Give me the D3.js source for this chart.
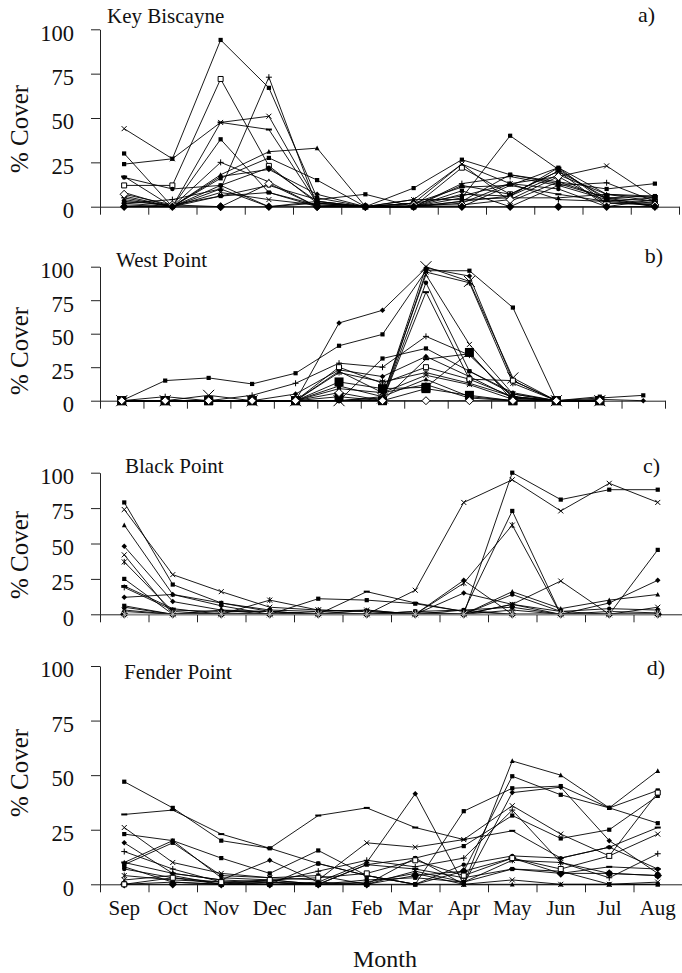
<!DOCTYPE html>
<html><head><meta charset="utf-8">
<script src="https://cdn.jsdelivr.net/npm/d3@7"></script>
<style>
body{margin:0;background:#fff}
svg{display:block}
text{font-family:"Liberation Serif","Times New Roman",serif;fill:#111}
</style></head><body><svg id="c" width="682" height="973"></svg>
<script>
// ---------------- data ----------------
const months = ["Sep","Oct","Nov","Dec","Jan","Feb","Mar","Apr","May","Jun","Jul","Aug"];
const westPointPeriods = ["P1","P2","P3","P4","P5","P6","P7","P8","P9","P10","P11","P12","P13"];
const yTicks = [0, 25, 50, 75, 100];
const panelTitles = ["Key Biscayne", "West Point", "Black Point", "Fender Point"];
const panelTags = ["a)", "b)", "c)", "d)"];
const xTitle = "Month";
const yTitle = "% Cover";

const keyBiscayne = [
  [24, 27, 94, 67, 5, 0, 10.5, 26.5, 18, 14, 10, 13],
  [44, 27, 47.5, 51, 3, 0, 4, 24, 13, 17, 23, 5],
  [12, 12, 72, 23, 2, 0, 0, 22, 7, 20, 5, 3],
  [2, 4, 10, 73, 0, 0, 0, 13, 17, 12, 13.5, 3],
  [17, 0, 47.5, 43.5, 2, 0, 2, 11, 12, 22, 7, 6],
  [30, 0, 38, 8, 0, 0, 0, 5, 40, 21, 4, 2],
  [8, 0, 18, 31, 33, 0, 0, 7, 6, 18, 7, 5],
  [6, 0, 16, 27.5, 15, 0, 0, 3, 18, 13, 5, 6],
  [5, 0, 25, 14, 0, 0, 0, 2, 13, 4, 3, 1],
  [0, 0, 17, 21, 7, 0, 0, 12, 7, 20, 0, 0],
  [16.5, 10, 12, 22, 3, 0, 2, 6, 13, 10, 0, 4],
  [3, 1, 6, 12, 4, 7, 0, 3, 6, 22, 2, 2],
  [2, 0, 8, 4, 1, 0, 2, 24, 3, 14, 5, 0],
  [4, 0, 10, 0, 2, 0, 4, 4, 5, 5, 7, 3],
  [7, 1, 0, 13, 0, 0, 1, 1, 4, 17, 2, 1],
  [0, 0, 6, 8, 1, 0, 0, 0, 12, 7, 3, 5],
  [1, 0, 12, 0, 3, 0, 0, 9, 0, 12, 4, 0],
  [0, 0, 0, 0, 0, 0, 0, 0, 0, 0, 0, 0]
];
const keyBiscayneMarkers = ["square","x","opensquare","plus","dash","square","triangle","square","plus","diamond","circle","square","x","triangle","opendiamond","dash","square","bigdiamond"];

const westPoint = [
  [0, 15, 17, 12.5, 20.5, 41, 49.5, 97, 97, 69.5, 0, 2, 4],
  [0, 0, 0, 0, 0, 58, 67.5, 99, 93, 15, 0, 1, 0],
  [0, 0, 4, 0, 0, 0, 2, 100, 89, 17, 0, 0, null],
  [0, 0, 0, 0, 0, 0, 0, 96, 88, 13, 0, 0, null],
  [0, 0, 0, 0, 0, 0, 3, 94, 42, 5, 0, 0, null],
  [0, 0, 0, 0, 0, 0, 0, 88, 22, 6, 0, 0, null],
  [0, 0, 0, 0, 0, 0, 0, 81, 16, 3, 0, 0, null],
  [0, 3, 0, 4, 13, 28, 25, 48, 34, 3, 0, 0, null],
  [0, 0, 0, 0, 0, 0, 31.5, 39, 22, 5, 0, 3, null],
  [0, 0, 0, 0, 5, 23, 18, 33, 18, 2, 0, 0, null],
  [0, 0, 0, 0, 0, 25, 13, 25, 16, 15, 0, 0, null],
  [0, 0, 0, 0, 0, 21, 14, 21, 13, 3, 0, 0, null],
  [0, 0, 0, 0, 0, 22, 6, 19, 12, 1, 0, 0, null],
  [0, 0, 0, 0, 0, 11, 3, 16, 3, 0, 0, 0, null],
  [0, 0, 0, 0, 0, 9, 6, 12, 2, 0, 0, 0, null],
  [0, 0, 0, 0, 0, 0, 0, 31, 35, 2, 0, 0, null],
  [0, 0, 0, 0, 0, 14, 9, 10, 36, 0, 0, 0, null],
  [0, 0, 0, 0, 0, 3, 0, 9, 4, 0, 0, 0, null],
  [0, 0, 0, 0, 0, 6, 0, 0, 0, 0, 0, 0, null]
];
const westPointMarkers = ["square","diamond","bigx","asterisk","x","circle","dash","plus","square","diamond","opensquare","asterisk","x","triangle","circle","dash","bigsquare","bigsquare","opendiamond"];

const blackPoint = [
  [79, 21, 8, 3, 2, 0, 2, 3, 5, 0, 0, 0],
  [74, 28, 16, 5, 3, 2, 0, 0, 7, 2, 0, 0],
  [63, 14, 8, 2, 0, 3, 0, 3, 0, 0, 0, 0],
  [48, 9, 3, 2, 0, 0, 0, 24, 0, 0, 0, 0],
  [42, 0, 0, 0, 0, 0, 17, 79, 95, 73, 92.5, 79],
  [37, 2, 0, 10, 3, 2, 0, 22, 63, 0, 0, 0],
  [25, 0, 0, 0, 0, 0, 0, 0, 100, 81, 88, 88],
  [20, 4, 0, 0, 0, 16, 8, 2, 0, 0, 0, 0],
  [12, 14, 6, 0, 0, 0, 0, 15, 7, 0, 8, 24],
  [6, 0, 0, 0, 11, 10, 7.5, 2, 73, 0, 0, 45.5],
  [5, 0, 3, 0, 0, 0, 1, 0, 16, 4, 10, 14],
  [3, 0, 1, 0, 2, 3, 0, 0, 7, 23.5, 0, 5],
  [2, 0, 0, 0, 0, 0, 2, 0, 14, 2, 4, 3],
  [19, 3, 2, 2, 0, 0, 0, 0, 3, 0, 2, 1],
  [0, 0, 0, 0, 0, 0, 0, 0, 0, 0, 0, 0],
  [0, 0, 0, 0, 0, 0, 0, 0, 0, 0, 0, 0]
];
const blackPointMarkers = ["square","x","triangle","diamond","x","asterisk","square","dash","diamond","square","triangle","x","circle","plus","bigdiamond","grayasterisk"];

const fenderPoint = [
  [47, 35, 20, 16.5, 9.5, 4, 0, 33.5, 44, 45, 35, 28],
  [32, 34, 23, 16.5, 31.5, 35, 26, 20.5, 24.5, 12, 17, 26],
  [23, 20, 12, 5, 15.5, 4, 0, 6, 49.5, 41, 35, 43],
  [26, 10, 5, 3, 2, 19, 17, 20.5, 36, 23, 13, 23],
  [19, 5, 2, 11, 1, 10, 41.5, 0, 42, 44.5, 20, 5],
  [10, 20, 3, 2, 0, 9, 12, 0, 56.5, 50, 35, 52],
  [15, 7, 1, 1, 6, 11, 8, 12, 34, 10, 3, 14],
  [9, 19, 4, 3, 4, 0, 12, 17.5, 31.5, 21, 25, 40.5],
  [7, 3, 0, 0, 9.5, 4, 0, 9, 13, 12, 17, 7],
  [4, 2, 1, 0, 0, 0, 6, 1, 11, 10, 5, 4],
  [0, 0, 0, 0, 0, 0, 4, 6, 12, 5, 5, 4],
  [2, 4, 0, 2, 0, 1, 5, 0, 2, 0, 0, 1],
  [0, 1, 0, 0, 1, 0, 0, 0, 0, 0, 0, 0],
  [10, 5, 2, 1, 0, 9, 7, 3, 7, 5, 8, 7],
  [8, 1, 0, 1, 0, 2, 3, 1, 7, 6, 0, 0],
  [0, 3, 1, 2, 3, 5, 11, 4, 12, 7, 13, 42]
];
const fenderPointMarkers = ["square","dash","square","x","diamond","triangle","plus","square","circle","asterisk","bigdiamond","x","triangle","dash","square","opensquare"];

// ---------------- layout (positions only) ----------------
const layout = [
  {x0:100, x1:679, yTop:29.3, yBot:206.7, tx:107, ty:23,  gx:655, gy:21.7, ly:129},
  {x0:100, x1:665, yTop:266.7, yBot:400.7, tx:116, ty:267, gx:663, gy:263, ly:351},
  {x0:100, x1:682, yTop:472.7, yBot:614.3, tx:125, ty:472.7, gx:660, gy:473, ly:555},
  {x0:100, x1:682, yTop:666, yBot:884.3, tx:124, ty:679, gx:665, gy:675, ly:773}
];

const panels = [
  {cats: months, series: keyBiscayne, markers: keyBiscayneMarkers},
  {cats: westPointPeriods, series: westPoint, markers: westPointMarkers},
  {cats: months, series: blackPoint, markers: blackPointMarkers},
  {cats: months, series: fenderPoint, markers: fenderPointMarkers}
];

const svg = d3.select("#c");
const AX = "#222";

function drawMarker(g, type, x, y) {
  const s = 4.2;
  let p, fill = "#000", stroke = "none", sw = 1;
  const sq = k => `M${-k/2},${-k/2}h${k}v${k}h${-k}Z`;
  const di = k => `M0,${-k/2}L${k/2},0L0,${k/2}L${-k/2},0Z`;
  const xx = k => `M${-k/2},${-k/2}L${k/2},${k/2}M${k/2},${-k/2}L${-k/2},${k/2}`;
  switch (type) {
    case "square": p = sq(s); break;
    case "bigsquare": p = sq(9); break;
    case "diamond": p = di(5.5); break;
    case "bigdiamond": p = di(8.5); break;
    case "triangle": p = `M0,${-s/2-0.5}L${s/2+0.3},${s/2}L${-s/2-0.3},${s/2}Z`; break;
    case "x": p = xx(5); fill = "none"; stroke = "#000"; break;
    case "bigx": p = xx(11); fill = "none"; stroke = "#000"; break;
    case "asterisk": p = xx(5) + `M0,-3V3`; fill = "none"; stroke = "#000"; break;
    case "grayasterisk": p = xx(7) + `M0,-4V4`; fill = "none"; stroke = "#bbb"; break;
    case "plus": p = `M-3,0H3M0,-3V3`; fill = "none"; stroke = "#000"; break;
    case "dash": p = `M-3,0H3`; fill = "none"; stroke = "#000"; sw = 2; break;
    case "opensquare": p = sq(5); fill = "#fff"; stroke = "#000"; break;
    case "opendiamond": p = di(8); fill = "#fff"; stroke = "#000"; break;
    case "circle":
      g.append("circle").attr("cx", x).attr("cy", y).attr("r", 2.2).attr("fill", "#000");
      return;
  }
  g.append("path").attr("d", p).attr("transform", `translate(${x},${y})`)
    .attr("fill", fill).attr("stroke", stroke).attr("stroke-width", sw);
}

panels.forEach((pn, i) => {
  const L = layout[i];
  const g = svg.append("g");
  const n = pn.cats.length;
  const xb = d3.scaleBand().domain(pn.cats).range([L.x0, L.x1]).padding(0);
  const xc = c => xb(c) + xb.bandwidth() / 2;
  const xEdge = d3.scaleLinear().domain([0, n]).range([L.x0, L.x1]);
  const y = d3.scaleLinear().domain([0, 100]).range([L.yBot, L.yTop]);

  // x axis (ticks at band edges)
  const xa = g.append("g").attr("transform", `translate(0,${L.yBot})`)
    .call(d3.axisBottom(xEdge).tickValues(d3.range(n + 1)).tickSize(8).tickSizeOuter(0).tickFormat(""));
  xa.select(".domain").attr("stroke", AX);
  xa.selectAll(".tick line").attr("stroke", AX);

  // y axis
  const ya = g.append("g").attr("transform", `translate(${L.x0},0)`)
    .call(d3.axisLeft(y).tickValues(yTicks).tickSize(9).tickSizeOuter(0).tickPadding(17));
  ya.select(".domain").attr("stroke", AX);
  ya.selectAll(".tick line").attr("stroke", AX);
  ya.selectAll(".tick text").attr("font-size", 22.5).attr("dy", "0.48em")
    .attr("font-family", '"Liberation Serif",serif').attr("fill", "#111");

  // month labels on the last panel
  if (i === 3) {
    const la = g.append("g").attr("transform", `translate(0,${L.yBot})`)
      .call(d3.axisBottom(xb).tickSize(0).tickPadding(16));
    la.select(".domain").remove();
    la.selectAll(".tick text").attr("font-size", 21)
      .attr("font-family", '"Liberation Serif",serif').attr("fill", "#111");
    g.append("text").attr("x", 385).attr("y", 967).attr("text-anchor", "middle")
      .attr("font-size", 24).text(xTitle);
  }

  // titles
  g.append("text").attr("x", L.tx).attr("y", L.ty).attr("font-size", 21).text(panelTitles[i]);
  g.append("text").attr("x", L.gx).attr("y", L.gy).attr("font-size", 22).attr("text-anchor", "end").text(panelTags[i]);
  g.append("text").attr("transform", `translate(28,${L.ly}) rotate(-90)`)
    .attr("text-anchor", "middle").attr("font-size", 25).text(yTitle);

  // series
  const line = d3.line().defined(d => d.v !== null).x(d => xc(d.c)).y(d => y(d.v));
  pn.series.forEach((vals, k) => {
    const pts = vals.map((v, j) => ({c: pn.cats[j], v}));
    g.append("path").datum(pts).attr("d", line)
      .attr("fill", "none").attr("stroke", pn.markers[k] === "grayasterisk" ? "#bbb" : "#000")
      .attr("stroke-width", 0.9);
    pts.filter(d => d.v !== null).forEach(d => drawMarker(g, pn.markers[k], xc(d.c), y(d.v)));
  });
});
</script></body></html>
